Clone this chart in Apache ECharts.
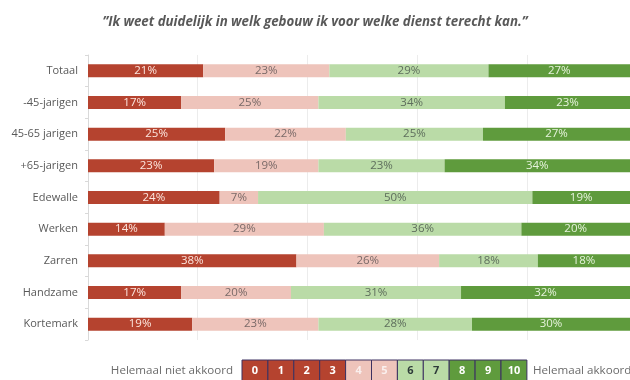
<!DOCTYPE html>
<html>
<head>
<meta charset="utf-8">
<script src="https://cdn.jsdelivr.net/npm/echarts@6/dist/echarts.min.js"></script>
<style>
  html, body { margin: 0; padding: 0; background: #fff; }
  #chart { width: 630px; height: 380px; }
</style>
</head>
<body>
<div id="chart"></div>
<script>
// groepen (rijen)
var categories = ['Totaal', '-45-jarigen', '45-65 jarigen', '+65-jarigen', 'Edewalle', 'Werken', 'Zarren', 'Handzame', 'Kortemark'];
// percentages per scoreblok
var score0to3 = [21, 17, 25, 23, 24, 14, 38, 17, 19];
var score4to5 = [23, 25, 22, 19, 7, 29, 26, 20, 23];
var score6to7 = [29, 34, 25, 23, 50, 36, 18, 31, 28];
var score8to10 = [27, 23, 27, 34, 19, 20, 18, 32, 30];
// legende schaal
var scaleLabels = ['0', '1', '2', '3', '4', '5', '6', '7', '8', '9', '10'];
var scaleGroup = [0, 0, 0, 0, 1, 1, 2, 2, 3, 3, 3];

var colors = ['#B5432F', '#EEC4BB', '#BADBA7', '#5F9B3D'];
var labelColors = ['#FCE6DE', '#7A6A68', '#5E6E5C', '#E6F3DC'];
var font = '"Open Sans", "Liberation Sans", sans-serif';

var chart = echarts.init(document.getElementById('chart'));

var blocks = [score0to3, score4to5, score6to7, score8to10];
var series = blocks.map(function (vals, i) {
    return {
        name: 'blok' + i,
        type: 'bar',
        stack: 'totaal',
        barWidth: 13,
        data: vals,
        itemStyle: { color: colors[i] },
        label: {
            show: true,
            position: 'inside',
            formatter: '{c}%',
            color: labelColors[i],
            fontFamily: font,
            fontSize: 11.5
        },
        animation: false
    };
});

// legende onderaan tekenen
var boxW = 25.9, boxX = 242, boxY = 360, boxH = 22;
var legendEls = [];
scaleLabels.forEach(function (lab, i) {
    var g = scaleGroup[i];
    legendEls.push({
        type: 'rect',
        shape: { x: boxX + i * boxW, y: boxY, width: boxW, height: boxH },
        style: { fill: colors[g], stroke: '#3C3160', lineWidth: 1 }
    });
    legendEls.push({
        type: 'text',
        x: boxX + i * boxW + boxW / 2,
        y: boxY + 11,
        style: {
            text: lab,
            fill: g === 2 ? '#2E3B3A' : (g === 1 ? '#FAF0EE' : '#FFFFFF'),
            font: 'bold 11px ' + font,
            align: 'center',
            verticalAlign: 'middle'
        }
    });
});
legendEls.push({
    type: 'text', x: 233, y: 371,
    style: { text: 'Helemaal niet akkoord', fill: '#6B6B6B', font: '11.6px ' + font, align: 'right', verticalAlign: 'middle' }
});
legendEls.push({
    type: 'text', x: 533, y: 371,
    style: { text: 'Helemaal akkoord', fill: '#6B6B6B', font: '11.6px ' + font, align: 'left', verticalAlign: 'middle' }
});

var option = {
    backgroundColor: '#fff',
    title: {
        text: '\u201dIk weet duidelijk in welk gebouw ik voor welke dienst terecht kan.\u201d',
        left: 'center',
        top: 11,
        textStyle: {
            fontFamily: font,
            fontStyle: 'italic',
            fontWeight: 'bold',
            fontSize: 13.3,
            color: '#595959'
        }
    },
    grid: { left: 88, right: 0, top: 55, bottom: 40 },
    xAxis: {
        type: 'value',
        min: 0,
        max: 98.8,
        interval: 20,
        axisLabel: { show: false },
        axisLine: { show: false },
        axisTick: { show: false },
        splitLine: { show: true, lineStyle: { color: '#ECECEC' } }
    },
    yAxis: {
        type: 'category',
        inverse: true,
        data: categories,
        axisLine: { show: true, lineStyle: { color: '#D9D9D9' } },
        axisTick: { show: true, length: 3, lineStyle: { color: '#D9D9D9' } },
        axisLabel: { color: '#595959', fontFamily: font, fontSize: 11, margin: 10 }
    },
    series: series,
    graphic: legendEls
};
chart.setOption(option);
</script>
</body>
</html>
